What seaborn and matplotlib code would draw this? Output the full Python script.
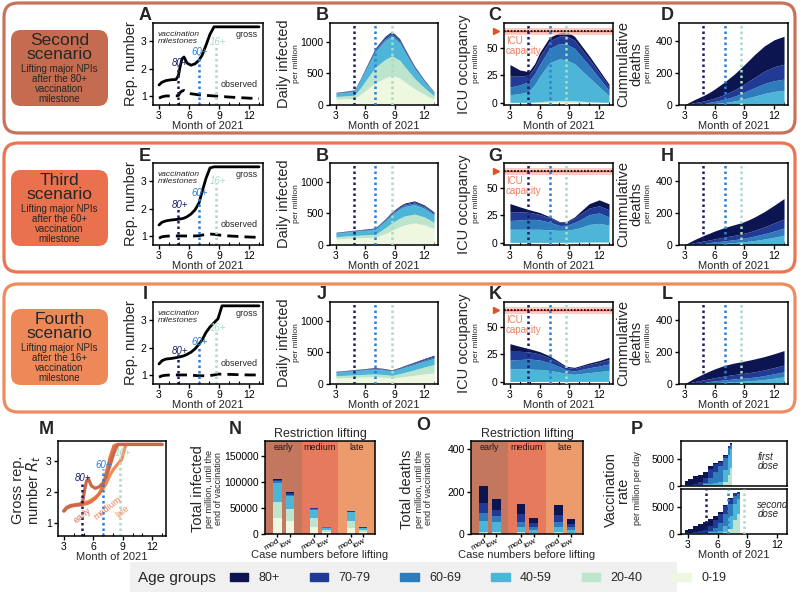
import numpy as np
import matplotlib
matplotlib.use("Agg")
import matplotlib.pyplot as plt
import matplotlib.transforms as mtransforms
from matplotlib.patches import FancyBboxPatch, Rectangle, Patch
import seaborn as sns

# ---------------- data ----------------
AGE_GROUPS = ["0-19", "20-40", "40-59", "60-69", "70-79", "80+"]
AGE_COLORS = ["#eef7e0", "#bde5cd", "#4db6d8", "#2e7cbc", "#203a96", "#0c1550"]

MILESTONES = [4.85, 7.0, 8.7]
MILESTONE_LABELS = ["80+", "60+", "16+"]
MILESTONE_COLORS = ["#1b1f6b", "#2f80cf", "#a9dcc2"]
ICU_CAPACITY = 65.5

# reproduction numbers
T_R = [3, 3.3, 3.7, 4.2, 4.7, 4.95, 5.1, 5.3, 5.5, 5.8, 6.2, 6.6, 7.0, 7.3, 7.7, 8.1, 8.5, 8.9, 9.3, 10, 11, 12, 13]
gross_second = [1.4, 1.5, 1.56, 1.59, 1.6, 1.75, 2.05, 2.35, 2.42, 2.2, 2.12, 2.17, 2.3, 2.48, 2.85, 3.25, 3.52, 3.52, 3.52, 3.52, 3.52, 3.52, 3.52]
obs_second = [0.92, 0.97, 1.0, 1.0, 1.0, 1.02, 1.12, 1.18, 1.2, 1.12, 1.08, 1.06, 1.04, 1.03, 1.02, 1.01, 1.0, 0.99, 0.98, 0.96, 0.94, 0.92, 0.9]
gross_third = [1.4, 1.5, 1.55, 1.58, 1.6, 1.61, 1.62, 1.63, 1.65, 1.7, 1.8, 1.95, 2.2, 2.6, 3.1, 3.48, 3.52, 3.52, 3.52, 3.52, 3.52, 3.52, 3.52]
obs_third = [0.92, 0.97, 0.99, 1.0, 1.0, 1.0, 1.0, 1.0, 1.0, 1.0, 1.0, 1.0, 1.01, 1.03, 1.06, 1.07, 1.06, 1.04, 1.02, 1.0, 0.98, 0.96, 0.95]
gross_fourth = [1.4, 1.52, 1.58, 1.6, 1.63, 1.65, 1.66, 1.68, 1.7, 1.75, 1.83, 1.95, 2.12, 2.27, 2.55, 2.75, 2.9, 3.05, 3.52, 3.52, 3.52, 3.52, 3.52]
obs_fourth = [0.92, 0.97, 0.99, 1.0, 1.0, 1.0, 1.0, 1.0, 1.0, 1.0, 0.99, 0.98, 0.97, 0.97, 0.97, 0.98, 1.0, 1.03, 1.03, 1.02, 1.01, 1.0, 1.0]

# stacked time series (layers: 0-19, 20-40, 40-59, 60-69, 70-79, 80+)
T = [3, 4, 4.9, 5.5, 6, 7, 8, 8.7, 9.5, 10, 11, 12, 13]
inf_second = [
    [95, 100, 105, 170, 230, 350, 430, 470, 430, 370, 260, 170, 90],
    [40, 45, 50, 100, 150, 245, 290, 310, 280, 240, 165, 105, 55],
    [50, 55, 60, 120, 160, 245, 300, 310, 270, 230, 150, 95, 50],
    [7, 9, 10, 14, 18, 27, 30, 35, 30, 25, 20, 14, 7],
    [5, 7, 10, 12, 15, 23, 27, 30, 27, 24, 17, 11, 6],
    [3, 4, 5, 4, 7, 10, 13, 15, 13, 11, 8, 5, 2],
]
inf_third = [
    [95, 105, 110, 115, 118, 122, 180, 230, 290, 320, 350, 320, 260],
    [35, 38, 40, 42, 44, 47, 90, 120, 135, 140, 140, 125, 100],
    [55, 60, 65, 67, 70, 75, 105, 130, 145, 150, 150, 135, 115],
    [8, 8, 9, 9, 10, 12, 15, 20, 22, 23, 25, 23, 20],
    [6, 6, 7, 7, 8, 10, 12, 15, 17, 18, 20, 18, 16],
    [3, 3, 4, 4, 4, 5, 8, 10, 12, 13, 15, 14, 12],
]
inf_fourth = [
    [95, 100, 105, 108, 110, 115, 105, 95, 110, 120, 140, 160, 175],
    [35, 38, 40, 42, 43, 45, 45, 42, 55, 65, 85, 110, 135],
    [55, 60, 65, 67, 70, 75, 70, 65, 72, 78, 85, 90, 95],
    [8, 8, 9, 9, 10, 12, 11, 10, 12, 14, 17, 20, 22],
    [6, 6, 7, 7, 8, 10, 9, 8, 10, 11, 13, 15, 17],
    [3, 3, 4, 4, 4, 5, 5, 4, 6, 7, 9, 10, 12],
]
icu_second = [
    [0.1, 0.1, 0.1, 0.2, 0.3, 0.5, 0.7, 0.7, 0.6, 0.5, 0.3, 0.2, 0.1],
    [0.3, 0.3, 0.3, 0.5, 0.8, 1.2, 1.5, 1.5, 1.3, 1.1, 0.8, 0.5, 0.3],
    [7, 8, 10, 16, 23, 35, 38, 37, 34, 30, 22, 14, 6],
    [7, 8, 9, 10, 11, 13, 14, 14.5, 14, 13, 11, 8, 5],
    [10, 8, 6, 6, 7, 7, 6.8, 7.5, 7.5, 7, 6, 5, 3.5],
    [10.6, 5.6, 3.1, 3.3, 3.9, 3.3, 3, 3.8, 3.6, 3.4, 2.9, 2.3, 2.1],
]
icu_third = [
    [0.1, 0.1, 0.1, 0.1, 0.1, 0.1, 0.1, 0.1, 0.1, 0.1, 0.1, 0.1, 0.1],
    [0.3, 0.3, 0.3, 0.3, 0.3, 0.3, 0.3, 0.4, 0.5, 0.6, 0.7, 0.7, 0.6],
    [12, 12, 12, 12, 12, 11.5, 11, 11, 12, 13, 16, 17, 15.5],
    [8, 8.5, 9, 9, 8.5, 7, 4.5, 4.5, 6, 7, 9, 9.5, 7.5],
    [8, 7.5, 6.5, 5.5, 5, 4, 3, 3, 4, 5, 6, 6.5, 6.5],
    [7.5, 4.5, 2.5, 2, 1.8, 1, 0.5, 0.6, 1, 2, 4, 5.5, 5.5],
]
icu_fourth = [
    [0.1, 0.1, 0.1, 0.1, 0.1, 0.1, 0.1, 0.1, 0.1, 0.1, 0.1, 0.1, 0.1],
    [0.3, 0.3, 0.3, 0.3, 0.3, 0.3, 0.3, 0.3, 0.3, 0.3, 0.3, 0.3, 0.3],
    [11.5, 11.5, 11.5, 11, 11, 10, 8.5, 7, 6.5, 7, 8, 9, 10],
    [8, 8.5, 9, 9, 8.5, 7, 5, 3.5, 3, 3.5, 4.5, 5, 6],
    [8, 7.5, 6.5, 6, 5.5, 4.5, 3, 2.3, 2.3, 2.6, 3, 3.5, 4],
    [7, 4.5, 3, 2.5, 2.2, 1.8, 1.3, 1, 1, 1, 1.3, 1.5, 2],
]
deaths_second = [
    [0, 0, 0, 0, 0, 0, 0, 0, 0, 0, 0, 0, 0],
    [0, 0.2, 0.3, 0.4, 0.5, 0.8, 1.2, 1.5, 2, 2.2, 2.5, 2.7, 2.8],
    [0.3, 3, 5, 7, 9, 15, 24, 33, 45, 53, 70, 82, 90],
    [0.5, 4, 7, 10, 13, 20, 30, 38, 48, 53, 62, 68, 70],
    [0.7, 8, 13, 17, 21, 30, 40, 48, 58, 64, 78, 88, 93],
    [1.5, 20, 35, 46, 57, 79, 100, 115, 131, 143, 158, 169, 176],
]
deaths_third = [
    [0, 0, 0, 0, 0, 0, 0, 0, 0, 0, 0, 0, 0],
    [0, 0.2, 0.3, 0.4, 0.5, 0.7, 0.9, 1, 1.1, 1.2, 1.4, 1.6, 1.8],
    [0.3, 3, 5, 6.5, 8, 11, 15, 18, 23, 27, 36, 47, 60],
    [0.5, 4, 7, 9, 11, 14, 18, 21, 25, 28, 33, 39, 45],
    [0.7, 8, 13, 16, 19, 24, 27, 29, 33, 36, 43, 51, 57],
    [1.5, 20, 35, 43, 49.5, 60, 67, 71, 78, 83, 96, 111, 128],
]
deaths_fourth = [
    [0, 0, 0, 0, 0, 0, 0, 0, 0, 0, 0, 0, 0],
    [0, 0.2, 0.3, 0.4, 0.5, 0.7, 0.9, 1, 1.1, 1.2, 1.4, 1.6, 1.8],
    [0.3, 3, 5, 6.5, 8, 11, 14, 16, 19, 21, 27, 35, 43],
    [0.5, 4, 7, 9, 11, 14, 17, 18, 20, 21, 24, 28, 32],
    [0.7, 9, 14, 17, 20, 25, 28, 30, 32, 33, 36, 39, 42],
    [1.5, 21.8, 38.7, 49.1, 55.5, 66.3, 72.1, 75, 77.9, 80.8, 83.6, 86.4, 91.2],
]

# bar panels: bars = early-mod, early-low, medium-mod, medium-low, late-mod, late-low
BAR_TICKS = ["mod", "low", "mod", "low", "mod", "low"]
LIFTING = ["early", "medium", "late"]
infected_total = [
    [30000, 24000, 14000, 4500, 12300, 4300],
    [31000, 23000, 16500, 3500, 13000, 3400],
    [36000, 26000, 16000, 3500, 16000, 3300],
    [3600, 2600, 1200, 1000, 1200, 1000],
    [3000, 2000, 1500, 1000, 1300, 900],
    [2000, 1900, 1000, 700, 1000, 700],
]
deaths_total = [
    [2, 2, 1, 1, 1, 1],
    [9, 6, 10, 5, 9, 5],
    [52, 47, 24, 14, 23, 14],
    [38, 30, 23, 14, 22, 13],
    [44, 30, 35, 16, 34, 16],
    [82, 49, 49, 24, 48, 23],
]

# vaccination rates (step values, layers 0-19 ... 80+)
T_V1 = [2.75, 3.0, 3.5, 4.0, 4.5, 5.0, 5.5, 6.0, 6.5, 7.0, 7.25, 7.45]
first_dose = [
    [0, 0, 0, 0, 0, 0, 0, 0, 0, 0, 0, 0],
    [0, 0, 0, 0, 0, 0, 0, 0, 700, 2000, 3300, 0],
    [100, 100, 100, 200, 300, 400, 600, 800, 2200, 3800, 3500, 0],
    [0, 0, 0, 0, 200, 1000, 2000, 2800, 2200, 1200, 800, 0],
    [0, 0, 300, 500, 1000, 1800, 1400, 900, 500, 300, 200, 0],
    [900, 1200, 1400, 1300, 1000, 400, 200, 100, 100, 50, 50, 0],
]
T_V2 = [2.75, 3.0, 3.5, 4.0, 4.5, 5.0, 5.5, 6.0, 6.5, 7.0, 7.5, 8.0, 8.3]
second_dose = [
    [0, 0, 0, 0, 0, 0, 0, 0, 0, 0, 0, 0, 0],
    [0, 0, 0, 0, 0, 0, 0, 0, 300, 900, 2500, 3600, 0],
    [100, 100, 100, 150, 200, 300, 400, 500, 1200, 2400, 3000, 2800, 0],
    [0, 0, 0, 0, 0, 200, 700, 1600, 2200, 2300, 1600, 1000, 0],
    [0, 0, 200, 400, 600, 1000, 1500, 1600, 1400, 900, 500, 300, 0],
    [600, 800, 1200, 1300, 1400, 1200, 700, 400, 200, 100, 50, 50, 0],
]

# ---------------- styling ----------------
sns.set_theme(style="ticks")
plt.rcParams['font.family'] = ['Liberation Sans', 'DejaVu Sans']
plt.rcParams['axes.linewidth'] = 1.1
plt.rcParams['axes.edgecolor'] = 'black'
plt.rcParams['xtick.color'] = 'black'
plt.rcParams['ytick.color'] = 'black'

W, H = 800, 593
fig = plt.figure(figsize=(W / 100, H / 100), dpi=100)
fig.patch.set_facecolor('white')


def add_ax(x0, y0, x1, y1):
    return fig.add_axes([x0 / W, 1 - y1 / H, (x1 - x0) / W, (y1 - y0) / H])


def ftext(x, y, s, **kw):
    fig.text(x / W, 1 - y / H, s, **kw)


def base_style(ax):
    ax.tick_params(labelsize=7.5, length=3, width=1, pad=1.5)
    for sp in ax.spines.values():
        sp.set_visible(True)
        sp.set_linewidth(1.1)


def time_axis(ax, label=True):
    ax.set_xlim(2.4, 13.4)
    ax.set_xticks([3, 6, 9, 12])
    ax.set_xticks(range(3, 14), minor=True)
    ax.tick_params(axis='x', which='minor', length=2, direction='in', width=0.8)
    if label:
        ax.set_xlabel("Month of 2021", fontsize=8, labelpad=0)
    else:
        ax.set_xticklabels([])


def milestone_lines(ax):
    for m, c in zip(MILESTONES, MILESTONE_COLORS):
        ax.axvline(m, color=c, ls=(0, (1, 1.2)), lw=1.8, zorder=5)


def rep_panel(ax, gross, observed, label_y):
    base_style(ax)
    sns.lineplot(x=T_R, y=gross, ax=ax, color='black', lw=2)
    sns.lineplot(x=T_R, y=observed, ax=ax, color='black', lw=2, linestyle=(0, (4, 2.2)))
    ax.set_ylim(0.67, 3.66)
    ax.set_yticks([1, 2, 3])
    time_axis(ax)
    lab_x = [5.05, 7.1, 8.95]
    for m, lab, c, ly, lx in zip(MILESTONES, MILESTONE_LABELS, MILESTONE_COLORS, label_y, lab_x):
        ax.vlines(m, 0.67, ly - 0.12, colors=c, linestyles=(0, (1, 1.2)), lw=1.8)
        ax.text(lx, ly, lab, color=c, style='italic', fontsize=7, ha='center', va='center')
    ax.text(0.04, 0.9, "vaccination\nmilestones", transform=ax.transAxes, style='italic',
            fontsize=6, va='top', ha='left', linespacing=0.9)
    ax.text(0.95, 0.86, "gross", transform=ax.transAxes, fontsize=6.5, ha='right', va='center')
    ax.text(0.95, 0.25, "observed", transform=ax.transAxes, fontsize=6.5, ha='right', va='center')


def stack_panel(ax, layers, ylim, yticks):
    base_style(ax)
    ax.stackplot(T, *layers, colors=AGE_COLORS, lw=0)
    ax.set_ylim(*ylim)
    ax.set_yticks(yticks)
    time_axis(ax)
    milestone_lines(ax)


def icu_extras(ax):
    ax.axhspan(ICU_CAPACITY - 3.2, ICU_CAPACITY + 3.2, color='#f7b8ae', alpha=0.7, lw=0, zorder=1)
    ax.axhline(ICU_CAPACITY, color='#e8503a', lw=1.0, zorder=2)
    ax.axhline(ICU_CAPACITY, color='black', ls=(0, (1, 1)), lw=1.2, zorder=6)
    tr = mtransforms.blended_transform_factory(ax.transAxes, ax.transData)
    ax.plot([-0.07], [ICU_CAPACITY], marker='>', color='#e2521f', ms=5, transform=tr, clip_on=False)
    ax.text(2.6, 61, "ICU\ncapacity", color='#f07e62', fontsize=7, ha='left', va='top', linespacing=0.95, zorder=7)


# ---------------- row frames ----------------
ROW_OFF = [0, 140, 279]
FRAME_COLORS = ["#c8725a", "#ea7550", "#ef8c5e"]
BOX_COLORS = ["#c56b50", "#e9714d", "#ef8858"]
BIG = ["Second\nscenario", "Third\nscenario", "Fourth\nscenario"]
SMALL = ["Lifting major NPIs\nafter the 80+\nvaccination\nmilestone",
         "Lifting major NPIs\nafter the 60+\nvaccination\nmilestone",
         "Lifting major NPIs\nafter the 16+\nvaccination\nmilestone"]
FRAME_H = [130, 129, 128]

for r in range(3):
    off = ROW_OFF[r]
    y_top = 3 + off + (2 if r == 2 else 0)
    fr = FancyBboxPatch((4 / 100, (H - (y_top + FRAME_H[r])) / 100), 791 / 100, FRAME_H[r] / 100,
                        boxstyle="round,pad=0,rounding_size=0.14", transform=fig.dpi_scale_trans,
                        fill=False, ec=FRAME_COLORS[r], lw=2.3)
    fig.add_artist(fr)
    bx = FancyBboxPatch((11 / 100, (H - (106 + off)) / 100), 97 / 100, 76 / 100,
                        boxstyle="round,pad=0,rounding_size=0.1", transform=fig.dpi_scale_trans,
                        fc=BOX_COLORS[r], ec='none')
    fig.add_artist(bx)
    ftext(59.5, 47.5 + off, BIG[r], fontsize=12.5, ha='center', va='center', linespacing=0.92)
    ftext(59.5, 84 + off, SMALL[r], fontsize=7, ha='center', va='center', linespacing=1.0)

# ---------------- rows of panels ----------------
COLS = [(153, 263), (330, 438), (504, 613), (679, 788)]
LETTERS = [["A", "B", "C", "D"], ["E", "B", "G", "H"], ["I", "J", "K", "L"]]
LETTER_X = [145, 322, 495, 667]
GROSS = [gross_second, gross_third, gross_fourth]
OBS = [obs_second, obs_third, obs_fourth]
INF = [inf_second, inf_third, inf_fourth]
ICU = [icu_second, icu_third, icu_fourth]
DEATHS = [deaths_second, deaths_third, deaths_fourth]
LABEL_Y = [[2.2, 2.6, 2.97], [2.13, 2.57, 3.0], [1.88, 2.2, 2.7]]

for r in range(3):
    off = ROW_OFF[r]
    axs = [add_ax(c0, 23 + off, c1, 105 + off) for c0, c1 in COLS]
    rep_panel(axs[0], GROSS[r], OBS[r], LABEL_Y[r])
    stack_panel(axs[1], INF[r], (0, 1300), [0, 500, 1000])
    stack_panel(axs[2], ICU[r], (-2, 73), [0, 25, 50])
    icu_extras(axs[2])
    stack_panel(axs[3], DEATHS[r], (0, 515), [0, 200, 400])
    for lx, lt in zip(LETTER_X, LETTERS[r]):
        ftext(lx, 16 + off, lt, fontsize=13, fontweight='bold', ha='center', va='center')
    yc = 64 + off
    ftext(131, yc, "Rep. number", fontsize=10.5, rotation=90, ha='center', va='center')
    ftext(284, yc, "Daily infected", fontsize=10.5, rotation=90, ha='center', va='center')
    ftext(297, yc, "per million", fontsize=6, rotation=90, ha='center', va='center')
    ftext(464, yc, "ICU occupancy", fontsize=10.5, rotation=90, ha='center', va='center')
    ftext(476, yc, "per million", fontsize=6, rotation=90, ha='center', va='center')
    ftext(630, yc, "Cummulative\ndeaths", fontsize=10.5, rotation=90, ha='center', va='center', linespacing=0.9)
    ftext(649, yc, "per million", fontsize=6, rotation=90, ha='center', va='center')

# ---------------- panel M ----------------
axM = add_ax(58, 441, 166, 536)
base_style(axM)
M_COLORS = ["#c9694b", "#e8703f", "#f08c56"]
for g, c in zip([gross_fourth, gross_third, gross_second], [M_COLORS[2], M_COLORS[1], M_COLORS[0]]):
    sns.lineplot(x=T_R, y=g, ax=axM, color=c, lw=2.3)
axM.set_ylim(0.6, 3.63)
axM.set_yticks([1, 2, 3])
time_axis(axM)
for m, lab, c, ly in zip(MILESTONES, MILESTONE_LABELS, MILESTONE_COLORS, [2.46, 2.87, 3.25]):
    axM.vlines(m, 0.6, ly - 0.12, colors=c, linestyles=(0, (1, 1.2)), lw=1.8)
    axM.text(m + (0.35 if lab == "16+" else 0.05), ly, lab, color=c, style='italic', fontsize=7, ha='center', va='center')
for lab, (lx, ly), c in zip(LIFTING, [(4.9, 1.27), (7.5, 1.5), (8.95, 1.38)],
                            ["#cc7258", "#ea7b52", "#f29262"]):
    axM.text(lx, ly, lab, color=c, fontsize=6.5, rotation=38, ha='center', va='center')
ftext(46, 429, "M", fontsize=13, fontweight='bold', ha='center', va='center')
ftext(27, 490, "Gross rep.\nnumber $R_t$", fontsize=10.5, rotation=90, ha='center', va='center', linespacing=0.9)

# ---------------- panels N and O ----------------
SPAN_COLORS = ["#c3775f", "#e67a5c", "#ed9a6d"]
BAR_POS = [0.34, 0.68, 1.34, 1.68, 2.34, 2.68]


def bar_panel(ax, layers, ylim, yticks):
    base_style(ax)
    for i, c in enumerate(SPAN_COLORS):
        ax.axvspan(i, i + 1, color=c, lw=0, zorder=0)
        ax.text(i + 0.5, 0.93, LIFTING[i], transform=mtransforms.blended_transform_factory(ax.transData, ax.transAxes),
                fontsize=6.5, ha='center', va='center', color='#2a1510')
    bottom = np.zeros(len(BAR_POS))
    for vals, c in zip(layers, AGE_COLORS):
        ax.bar(BAR_POS, vals, width=0.23, bottom=bottom, color=c, lw=0, zorder=2)
        bottom = bottom + np.array(vals)
    ax.set_xlim(0, 3)
    ax.set_ylim(*ylim)
    ax.set_yticks(yticks)
    ax.set_xticks(BAR_POS)
    ax.set_xticklabels(BAR_TICKS, rotation=30, ha='right', rotation_mode='anchor', fontsize=6)
    ax.tick_params(axis='x', pad=0.5, length=2)
    ax.set_xlabel("Case numbers before lifting", fontsize=8, labelpad=-1)
    ax.set_title("Restriction lifting", fontsize=9, pad=3)


axN = add_ax(265, 441, 375, 534)
bar_panel(axN, infected_total, (0, 178000), [0, 50000, 100000, 150000])
ftext(235, 429, "N", fontsize=13, fontweight='bold', ha='center', va='center')
ftext(198, 489, "Total infected", fontsize=10.5, rotation=90, ha='center', va='center')
ftext(214, 489, "per million, until the\nend of vaccination", fontsize=6.5, rotation=90, ha='center', va='center', linespacing=0.95)

axO = add_ax(471, 441, 583, 534)
bar_panel(axO, deaths_total, (0, 438), [0, 200, 400])
ftext(423, 425, "O", fontsize=13, fontweight='bold', ha='center', va='center')
ftext(407, 489, "Total deaths", fontsize=10.5, rotation=90, ha='center', va='center')
ftext(424, 489, "per million, until the\nend of vaccination", fontsize=6.5, rotation=90, ha='center', va='center', linespacing=0.95)

# ---------------- panel P ----------------
axP1 = add_ax(681, 441, 787, 486)
axP2 = add_ax(681, 489, 787, 534)
for ax, tv, layers, txt, lab in [(axP1, T_V1, first_dose, "first\ndose", False),
                                 (axP2, T_V2, second_dose, "second\ndose", True)]:
    base_style(ax)
    ax.stackplot(tv, *layers, colors=AGE_COLORS, lw=0, step='post')
    ax.set_ylim(0, 8300)
    ax.set_yticks([0, 5000])
    ax.set_xlim(2.3, 13.0)
    ax.set_xticks([3, 6, 9, 12])
    ax.tick_params(axis='x', length=3)
    if lab:
        ax.set_xlabel("Month of 2021", fontsize=8, labelpad=0)
        milestone_lines(ax)
    else:
        ax.set_xticklabels([])
        ax.tick_params(axis='x', length=0)
    ax.text(0.72, 0.55, txt, transform=ax.transAxes, style='italic', fontsize=7, ha='left', va='center', linespacing=0.85)
ftext(637, 430, "P", fontsize=13, fontweight='bold', ha='center', va='center')
ftext(617, 490, "Vaccination\nrate", fontsize=10.5, rotation=90, ha='center', va='center', linespacing=0.9)
ftext(638, 488, "per million per day", fontsize=6.5, rotation=90, ha='center', va='center')

# ---------------- legend ----------------
fig.add_artist(Rectangle((130 / W, 1 - 592 / H), 547 / W, 30 / H, transform=fig.transFigure,
                         fc='#f0f0f0', ec='none', zorder=0))
ftext(138, 578, "Age groups", fontsize=11, ha='left', va='center')
handles = [Patch(color=c) for c in AGE_COLORS[::-1]]
fig.legend(handles, AGE_GROUPS[::-1], loc='center left', bbox_to_anchor=(222 / W, 1 - 578 / H), ncol=6,
           frameon=False, fontsize=9, handlelength=1.5, handleheight=0.6, columnspacing=2.4, handletextpad=0.8,
           borderpad=0.1)

fig.savefig("out.png", dpi=100)
